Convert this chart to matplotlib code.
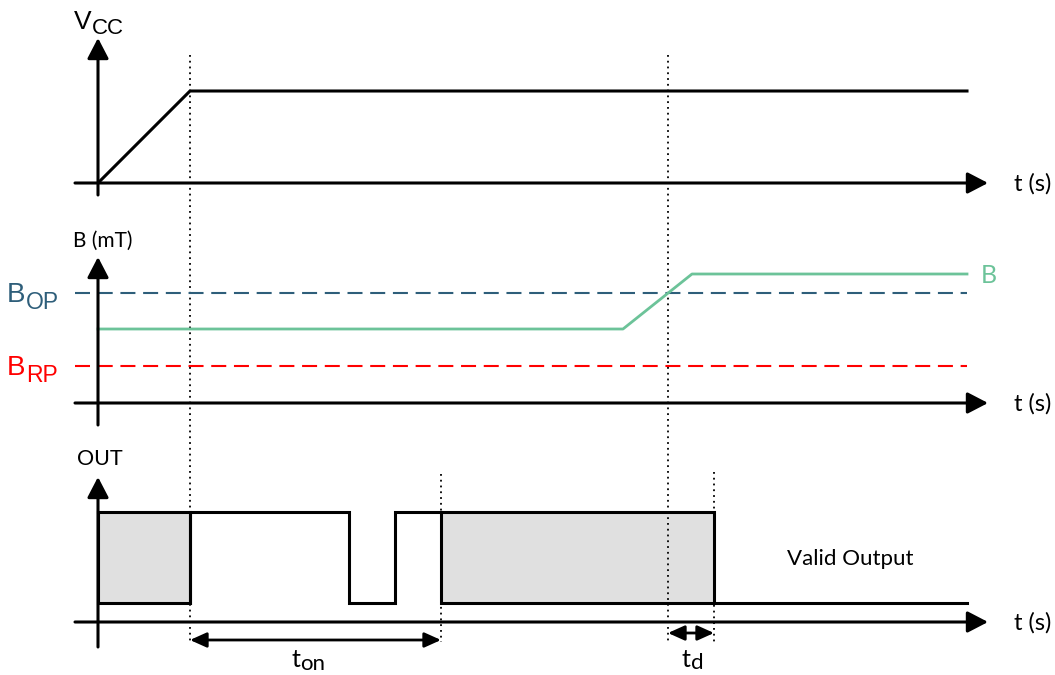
import matplotlib.pyplot as plt

# waveforms, in drawing units (x = time, y = level, y grows downward)
vcc_t = [98, 190, 967]
vcc_y = [183, 91, 91]

b_t = [98, 623, 692, 967]
b_y = [329, 329, 274, 274]
bop_y = 293
brp_y = 366

out_t = [190, 190, 349, 349, 395, 395, 441]
out_y = [603, 512, 512, 603, 603, 512, 512]
out_tail_t = [714, 967]
out_high, out_low = 512, 603
undef_spans = [(98, 190), (441, 714)]

# axes rows: (t axis y, arrow tip y, axis bottom y)
rows = [(183, 38, 195), (403, 257, 425), (622, 477, 647)]
x_axis = 98
x_left, x_right = 75, 988

markers = [(190, 55, 642), (668, 55, 642), (441, 474, 642), (714, 472, 642)]
ton = (190, 441, 640)
td = (668, 714, 633)

GREEN = '#6cc399'
BLUE = '#2e5e7a'
RED = '#ff0000'
SANS = 'Liberation Sans'
CAL = 'Lato'

fig = plt.figure(figsize=(10.55, 6.75), dpi=100)
ax = fig.add_axes([0, 0, 1, 1])
ax.set_xlim(0, 1055)
ax.set_ylim(675, 0)
ax.axis('off')


def sub_text(x, y, main, sub, size, subsize, drop, color='k', family=SANS):
    t = ax.text(x, y, main, fontsize=size, color=color, family=family,
                ha='left', va='baseline')
    ax.annotate(sub, xy=(1, 0), xycoords=t, xytext=(0.5, -drop),
                textcoords='offset points', fontsize=subsize, color=color,
                family=family, ha='left', va='bottom')


akw = dict(arrowstyle='-|>,head_length=1.25,head_width=0.65', lw=2.2, color='k',
           shrinkA=0, shrinkB=0, mutation_scale=10)
for ty, tip, bot in rows:
    ax.annotate('', xy=(x_right, ty), xytext=(x_left, ty), arrowprops=akw)
    ax.annotate('', xy=(x_axis, tip), xytext=(x_axis, bot), arrowprops=akw)
    ax.text(1014, ty + 8, 't (s)', fontsize=17, family=CAL, va='baseline', ha='left')

for x, y0, y1 in markers:
    ax.plot([x, x], [y0, y1], color='k', lw=1.3, ls=(0, (1, 2.2)))

# VCC
ax.plot(vcc_t, vcc_y, color='k', lw=2.2, solid_joinstyle='miter')
sub_text(74, 29, 'V', 'CC', 19, 16, 3.5)

# B
dash = (0, (7.2, 3.7))
ax.plot([x_left, 967], [bop_y, bop_y], color=BLUE, lw=1.5, ls=dash)
ax.plot([x_left, 967], [brp_y, brp_y], color=RED, lw=1.5, ls=dash)
ax.plot(b_t, b_y, color=GREEN, lw=2.0)
ax.text(981, 283, 'B', fontsize=18, family=CAL, color=GREEN, va='baseline', ha='left')
ax.text(73, 247, 'B (mT)', fontsize=15, family=CAL, va='baseline', ha='left')
sub_text(7, 302, 'B', 'OP', 20, 16.5, 4, color=BLUE)
sub_text(7, 375, 'B', 'RP', 20, 16.5, 4, color=RED)

# OUT
for a, b in undef_spans:
    ax.fill_between([a, b], out_high, out_low, color='#e0e0e0', lw=0)
    ax.plot([a, b, b, a, a], [out_high, out_high, out_low, out_low, out_high],
            color='k', lw=2.2, solid_joinstyle='miter')
ax.plot(out_t, out_y, color='k', lw=2.2, solid_joinstyle='miter')
ax.plot(out_tail_t, [out_low, out_low], color='k', lw=2.2)
ax.text(77, 465, 'OUT', fontsize=15.5, family=CAL, va='baseline', ha='left')
ax.text(787, 565, 'Valid Output', fontsize=16, family=CAL, va='baseline', ha='left')

dkw = dict(arrowstyle='<|-|>,head_length=1.0,head_width=0.45', lw=2.0, color='k',
           shrinkA=0, shrinkB=0, mutation_scale=10)
ax.annotate('', xy=(ton[1], ton[2]), xytext=(ton[0], ton[2]), arrowprops=dkw)
ax.annotate('', xy=(td[1], td[2]), xytext=(td[0], td[2]), arrowprops=dkw)
sub_text(291, 667, 't', 'on', 18, 16, 2.5, family=CAL)
sub_text(681, 667, 't', 'd', 18, 16, 1.5, family=CAL)

fig.savefig('out.png', dpi=100)
